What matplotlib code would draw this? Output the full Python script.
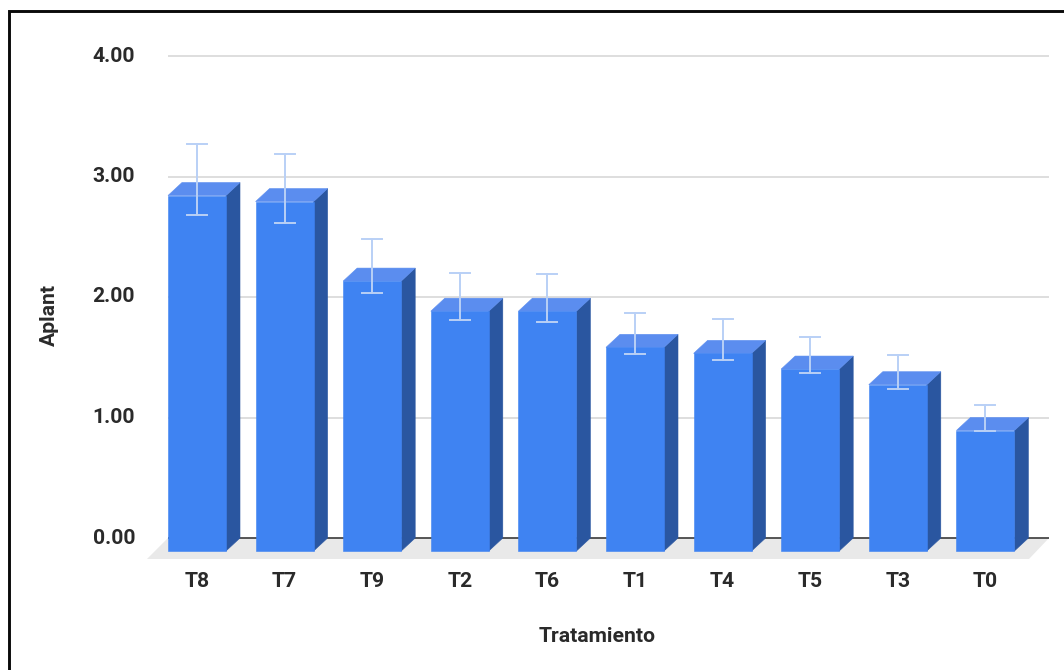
"""Bar chart of Aplant per treatment, drawn with a fake 3D depth."""

import matplotlib
matplotlib.use("Agg")
import matplotlib.pyplot as plt
from matplotlib.patches import Polygon, Rectangle

treatments = ["T8", "T7", "T9", "T2", "T6", "T1", "T4", "T5", "T3", "T0"]
aplant = [2.95, 2.90, 2.24, 1.99, 1.99, 1.69, 1.64, 1.51, 1.38, 1.00]
err_high = [3.27, 3.19, 2.48, 2.20, 2.19, 1.87, 1.82, 1.67, 1.52, 1.10]
err_low = [2.68, 2.61, 2.03, 1.81, 1.79, 1.53, 1.48, 1.37, 1.24, 0.89]
y_ticks = [0, 1, 2, 3, 4]

W, H = 1064, 670
PX_X = 87.6    # pixels per category
PX_Y = 120.5   # pixels per unit of Aplant
DX = 14 / PX_X
DY = 13 / PX_Y
BAR_W = 58 / PX_X
TEXT = "#2a2a2a"
FONT_SIZE = 15.2

plt.rcParams["font.family"] = ["Roboto", "DejaVu Sans"]

fig = plt.figure(figsize=(W / 100, H / 100), dpi=100, facecolor="white")
# the axes cover the whole canvas, limits put y=0 at row 538 and T8 at column 197
ax = fig.add_axes([0, 0, 1, 1])
ax.set_xlim(-197 / PX_X, (W - 197) / PX_X)
ax.set_ylim(-(H - 538) / PX_Y, 538 / PX_Y)
ax.axis("off")

x_left, x_right = -29 / PX_X, 852 / PX_X

# floor under the bars
ax.add_patch(Polygon(
    [(x_left, 0), (x_right, 0), (x_right - 20 / PX_X, -21 / PX_Y), (x_left - 21 / PX_X, -21 / PX_Y)],
    closed=True, facecolor="#e9e9e9", edgecolor="none", zorder=1,
))

for t in y_ticks:
    color = "#3a3a3a" if t == 0 else "#d8d8d8"
    ax.plot([x_left, x_right], [t, t], color=color, lw=1.2, zorder=2, solid_capstyle="butt")
    ax.text(-62 / PX_X, t, f"{t:.2f}", ha="right", va="center", fontsize=FONT_SIZE,
            fontweight="bold", color=TEXT)

for i, (name, val) in enumerate(zip(treatments, aplant)):
    left = i - BAR_W / 2
    right = i + BAR_W / 2
    top = val - DY
    base = -DY
    ax.add_patch(Polygon(
        [(right, base), (right + DX, base + DY), (right + DX, top + DY), (right, top)],
        closed=True, facecolor="#2a56a0", edgecolor="#2a56a0", lw=0.4, zorder=3,
    ))
    ax.add_patch(Polygon(
        [(left, top), (right, top), (right + DX, top + DY), (left + DX, top + DY)],
        closed=True, facecolor="#5b8def", edgecolor="#5b8def", lw=0.4, zorder=3,
    ))
    ax.add_patch(Rectangle((left, base), BAR_W, top - base, facecolor="#3f83f2",
                           edgecolor="#3f83f2", lw=0.4, zorder=3))
    ax.text(i, -43.5 / PX_Y, name, ha="center", va="center", fontsize=FONT_SIZE,
            fontweight="bold", color=TEXT)

# whiskers are centred on the front face
err_color = "#b9d0f6"
for i, (lo, hi) in enumerate(zip(err_low, err_high)):
    ax.plot([i, i], [lo, hi], color=err_color, lw=1.4, zorder=4)
    for cap in (lo, hi):
        ax.plot([i - 10 / PX_X, i + 10 / PX_X], [cap, cap], color=err_color, lw=1.4, zorder=4)

ax.text(400.5 / PX_X, -98 / PX_Y, "Tratamiento", ha="center", va="center", fontsize=FONT_SIZE,
        fontweight="bold", color=TEXT)
ax.text(-148 / PX_X, 223 / PX_Y, "Aplant", ha="center", va="center", rotation=90,
        fontsize=FONT_SIZE, fontweight="bold", color=TEXT)

# frame lines along the top and left of the canvas
fig.add_artist(plt.Line2D([9 / W, 9 / W, 1], [0, 1 - 10.5 / H, 1 - 10.5 / H],
                          transform=fig.transFigure, color="#0a0a0a", lw=2.1,
                          solid_joinstyle="miter"))

fig.savefig("out.png", dpi=100, facecolor="white")
plt.close(fig)
